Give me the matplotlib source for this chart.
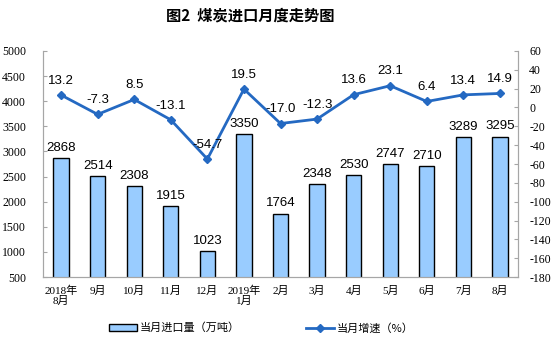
import matplotlib
matplotlib.use("Agg")
import matplotlib.pyplot as plt
from matplotlib.lines import Line2D
from matplotlib.patches import Patch

plt.rcParams["axes.unicode_minus"] = False

months = ["2018年\n8月", "9月", "10月", "11月", "12月", "2019年\n1月", "2月",
          "3月", "4月", "5月", "6月", "7月", "8月"]
imports = [2868, 2514, 2308, 1915, 1023, 3350, 1764, 2348, 2530, 2747, 2710, 3289, 3295]
growth = [13.2, -7.3, 8.5, -13.1, -54.7, 19.5, -17.0, -12.3, 13.6, 23.1, 6.4, 13.4, 14.9]

cjk = ["Noto Sans CJK SC", "DejaVu Sans"]
serif_cjk = ["Liberation Serif", "Noto Sans CJK SC"]
sans = ["Liberation Sans", "DejaVu Sans"]
grey = "#A6A6A6"
line_c = "#2469C2"

fig = plt.figure(figsize=(5.56, 3.49), dpi=100)
ax = fig.add_axes([0.077, 0.206, 0.855, 0.648])
ax2 = ax.twinx()

x = range(len(months))
ax.bar(x, imports, width=0.42, color="#99CCFF", edgecolor="black", linewidth=1.0)
for xi, v in zip(x, imports):
    ax.annotate(str(v), (xi, v), xytext=(0, 3), textcoords="offset points",
                ha="center", va="bottom", fontsize=9.5, family=sans)

ax2.plot(x, growth, color=line_c, lw=2, marker="D", ms=4.5)
for xi, v in zip(x, growth):
    ax2.annotate(f"{v:.1f}", (xi, v), xytext=(0, 6), textcoords="offset points",
                 ha="center", va="bottom", fontsize=9.5, family=sans)

ax.set_xlim(-0.5, len(months) - 0.5)
ax.set_ylim(500, 5000)
ax.set_yticks(range(500, 5001, 500))
ax2.set_ylim(-180, 60)
ax2.set_yticks(range(-180, 61, 20))

for a in (ax, ax2):
    a.spines["top"].set_visible(False)
    for s in ("left", "right", "bottom"):
        a.spines[s].set_color(grey)
    a.tick_params(axis="y", direction="in", length=3, color=grey, labelsize=8.5)
    for lbl in a.get_yticklabels():
        lbl.set_family(serif_cjk)
ax.tick_params(axis="y", pad=12)
ax2.tick_params(axis="y", pad=8)

ax.set_xticks(list(x))
ax.set_xticklabels(months, fontsize=8, family=serif_cjk, linespacing=1.0)
ax.tick_params(axis="x", length=0, pad=6)

fig.text(0.45, 0.955, "图2  煤炭进口月度走势图", ha="center", va="center",
         fontsize=11, family=cjk, fontweight="bold")

handles = [Patch(facecolor="#99CCFF", edgecolor="black", linewidth=1.0),
           Line2D([0], [0], color=line_c, lw=2, marker="D", ms=4)]
fig.legend(handles, ["当月进口量（万吨）", "当月增速（%）"], loc="center",
           bbox_to_anchor=(0.47, 0.06), ncol=2, frameon=False, columnspacing=6,
           handlelength=2.5, handletextpad=0.2, prop={"family": cjk, "size": 8})

plt.savefig("out.png", dpi=100)
